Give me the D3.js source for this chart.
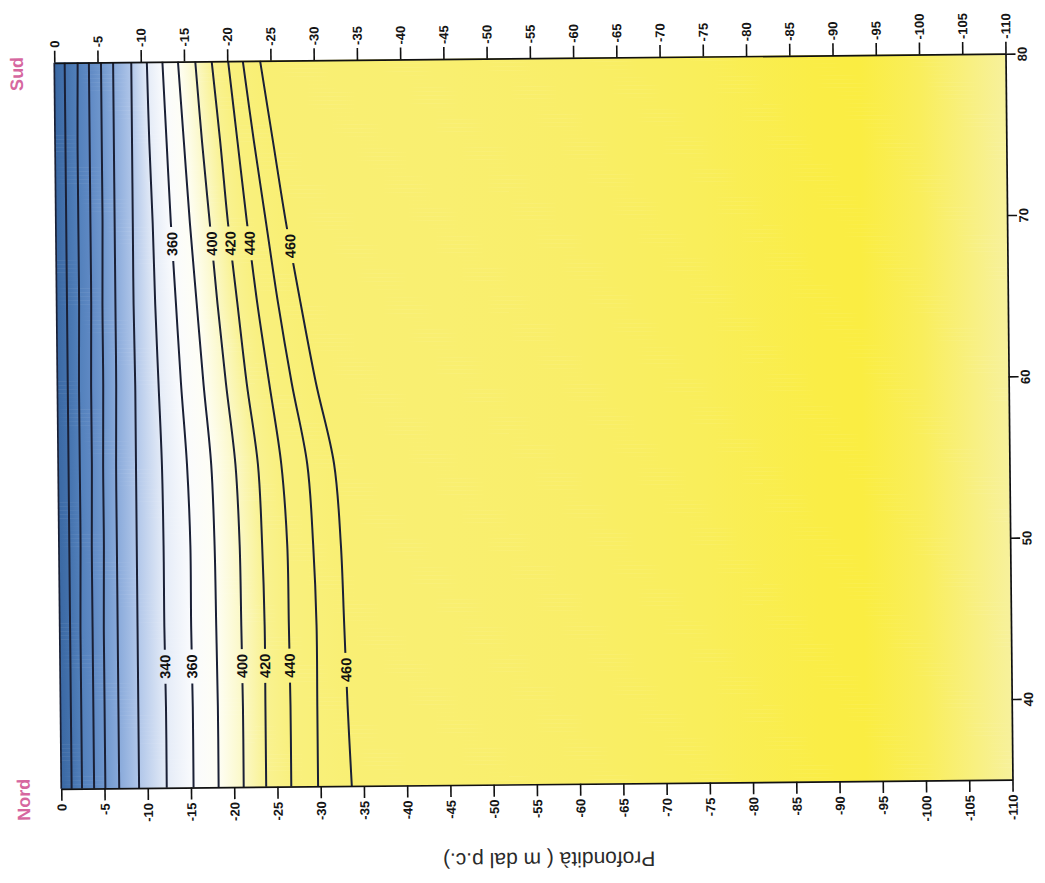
<!DOCTYPE html>
<html>
<head>
<meta charset="utf-8">
<script src="https://cdn.jsdelivr.net/npm/d3@7"></script>
<style>
  html, body { margin: 0; padding: 0; background: #ffffff; }
  svg { display: block; }
</style>
</head>
<body>
<svg id="chart" width="1045" height="883"></svg>
<script>
// Section distances (Nord = 35, Sud = 80) at which each contour depth is known
const distances = [35, 40, 45, 50, 55, 60, 65, 70, 75, 80];

// Contour levels and their depths (m below ground) along the section
const contourLevels = [220, 240, 260, 280, 300, 320, 340, 360, 380, 400, 420, 440, 450, 460];
const contourDepths = [
  [-1.2, -1.2, -1.2, -1.2, -1.2, -1.2, -1.2, -1.2, -1.2, -1.2],
  [-2.4, -2.4, -2.4, -2.5, -2.5, -2.5, -2.6, -2.6, -2.6, -2.7],
  [-3.8, -3.8, -3.8, -3.8, -3.9, -3.9, -4.0, -4.0, -4.0, -4.0],
  [-5.1, -5.1, -5.1, -5.2, -5.2, -5.3, -5.3, -5.4, -5.4, -5.4],
  [-6.7, -6.7, -6.7, -6.7, -6.7, -6.8, -6.8, -6.8, -6.8, -6.8],
  [-9.0, -9.0, -9.0, -9.0, -9.0, -9.0, -8.9, -8.9, -8.9, -8.9],
  [-12.2, -12.2, -12.1, -12.1, -12.0, -11.7, -11.4, -11.2, -10.9, -10.7],
  [-15.3, -15.3, -15.2, -15.2, -14.9, -14.3, -13.8, -13.3, -12.9, -12.5],
  [-18.2, -18.2, -18.1, -18.0, -17.7, -16.9, -16.2, -15.5, -14.9, -14.3],
  [-21.1, -21.1, -21.0, -20.9, -20.5, -19.5, -18.6, -17.8, -17.0, -16.3],
  [-23.7, -23.7, -23.7, -23.5, -23.1, -21.9, -20.9, -19.9, -19.1, -18.2],
  [-26.6, -26.6, -26.5, -26.4, -25.8, -24.5, -23.2, -22.1, -21.1, -20.1],
  [-29.7, -29.7, -29.7, -29.4, -28.8, -27.1, -25.6, -24.3, -23.0, -21.8],
  [-33.6, -33.2, -32.9, -32.6, -31.9, -29.9, -28.2, -26.6, -25.2, -23.8]
];

// Fill colour attached to each contour level, plus the ground surface
const surfaceColor = "#3a68a3";
const levelColors = ["#4472ad", "#5280bb", "#5f89c4", "#6f97cd", "#88a9da", "#b0c6e9",
                     "#e4ebf7", "#fafbfd", "#fefef5", "#fbf8c6", "#f9f291", "#f9f07e",
                     "#f9f079", "#f9ef74"];

// Colour of the deep part of the section, below the last contour
const deepDepths = [-45, -60, -75, -88, -93, -100, -106, -110];
const deepColors = ["#f9ef70", "#f9ee68", "#f9ee5a", "#faed46", "#faed42", "#f9ee5c", "#f8f082", "#f7f19c"];

// Contour labels: [level, distance]
const contourLabels = [
  [340, 42.5], [360, 42.5], [400, 42.5], [420, 42.5], [440, 42.5], [460, 42.2],
  [360, 68.7], [400, 68.7], [420, 68.7], [440, 68.7], [460, 68.5]
];

// Axis ticks
const depthTicks = d3.range(0, -111, -5);
const distanceTicks = [40, 50, 60, 70, 80];

const font = "'Liberation Sans', Arial, Helvetica, sans-serif";

// Plot frame
const plotLeft = 57.75, plotRight = 1009, plotTop = 58.25, plotBottom = 784.25;
const x = d3.scaleLinear().domain([0, -110]).range([plotLeft, plotRight]);
const y = d3.scaleLinear().domain([35, 80]).range([plotBottom, plotTop]);

const svg = d3.select("#chart");
const defs = svg.append("defs");
const root = svg.append("g").attr("transform", "rotate(-0.55, 533, 421)");

// Depth of a contour at any distance along the section
const depthAt = contourDepths.map(arr => d3.scaleLinear().domain(distances).range(arr));

// ---- Shaded field: thin horizontal strips, each with its own depth gradient ----
const step = 0.25;
const rows = d3.range(35, 80, step);
const field = root.append("g");
rows.forEach((d0, i) => {
  const dm = d0 + step / 2;
  const gid = "row" + i;
  const grad = defs.append("linearGradient")
    .attr("id", gid)
    .attr("gradientUnits", "userSpaceOnUse")
    .attr("x1", x(0)).attr("x2", x(-110))
    .attr("y1", 0).attr("y2", 0);
  const stops = [[0, surfaceColor]];
  contourLevels.forEach((lv, k) => stops.push([depthAt[k](dm), levelColors[k]]));
  deepDepths.forEach((dd, k) => stops.push([dd, deepColors[k]]));
  grad.selectAll("stop").data(stops).join("stop")
    .attr("offset", s => (s[0] / -110))
    .attr("stop-color", s => s[1]);
  field.append("rect")
    .attr("x", x(0))
    .attr("y", y(d0 + step) - 0.3)
    .attr("width", x(-110) - x(0))
    .attr("height", y(d0) - y(d0 + step) + 0.6)
    .attr("fill", `url(#${gid})`);
});

// ---- Gaps in the contour lines under the labels ----
const mask = defs.append("mask").attr("id", "labelGaps")
  .attr("maskUnits", "userSpaceOnUse")
  .attr("x", 0).attr("y", 0).attr("width", 1045).attr("height", 883);
mask.append("rect").attr("x", 0).attr("y", 0).attr("width", 1045).attr("height", 883).attr("fill", "#fff");
contourLabels.forEach(([lv, dist]) => {
  const k = contourLevels.indexOf(lv);
  const cx = x(depthAt[k](dist)), cy = y(dist);
  mask.append("rect")
    .attr("x", cx - 8).attr("y", cy - 17)
    .attr("width", 16).attr("height", 34)
    .attr("fill", "#000");
});

// ---- Contour lines ----
const line = d3.line()
  .x(p => x(p[1]))
  .y(p => y(p[0]))
  .curve(d3.curveCatmullRom.alpha(0.5));

root.append("g")
  .attr("mask", "url(#labelGaps)")
  .selectAll("path")
  .data(contourDepths)
  .join("path")
  .attr("d", arr => line(distances.map((dd, j) => [dd, arr[j]])))
  .attr("fill", "none")
  .attr("stroke", "#1a2036")
  .attr("stroke-width", 2);

// ---- Contour labels ----
root.append("g")
  .selectAll("text")
  .data(contourLabels)
  .join("text")
  .attr("transform", ([lv, dist]) => {
    const k = contourLevels.indexOf(lv);
    return `translate(${x(depthAt[k](dist))},${y(dist)}) rotate(-90)`;
  })
  .attr("text-anchor", "middle")
  .attr("dy", "0.35em")
  .attr("font-family", font)
  .attr("font-weight", "bold")
  .attr("font-size", 14.5)
  .attr("fill", "#111")
  .text(d => d[0]);

// ---- Axes ----
function styleAxis(g) {
  g.select(".domain").attr("stroke", "#111").attr("stroke-width", 1.7);
  g.selectAll(".tick line").attr("stroke", "#111").attr("stroke-width", 1.6);
  g.selectAll("text").attr("font-family", font).attr("font-size", 13)
    .attr("font-weight", "bold").attr("fill", "#151515");
}

const topAxis = root.append("g")
  .attr("transform", `translate(0,${y(80)})`)
  .call(d3.axisTop(x).tickValues(depthTicks).tickSize(12).tickSizeOuter(0).tickFormat(d => String(d)));
styleAxis(topAxis);
topAxis.selectAll(".tick text")
  .attr("transform", "rotate(-90)")
  .attr("x", 15).attr("y", 0).attr("dy", "0.35em")
  .attr("text-anchor", "start");

const bottomAxis = root.append("g")
  .attr("transform", `translate(0,${y(35)})`)
  .call(d3.axisBottom(x).tickValues(depthTicks).tickSize(12).tickSizeOuter(0).tickFormat(d => String(d)));
styleAxis(bottomAxis);
bottomAxis.selectAll(".tick text")
  .attr("transform", "rotate(-90)")
  .attr("x", -15).attr("y", 0).attr("dy", "0.35em")
  .attr("text-anchor", "end");

const rightAxis = root.append("g")
  .attr("transform", `translate(${x(-110)},0)`)
  .call(d3.axisRight(y).tickValues(distanceTicks).tickSize(10).tickSizeOuter(0));
styleAxis(rightAxis);
rightAxis.selectAll(".tick text")
  .attr("transform", "translate(12,0) rotate(-90)")
  .attr("x", 0).attr("y", 0).attr("dy", "0.71em")
  .attr("text-anchor", "middle");

// Left edge of the section
root.append("line")
  .attr("x1", x(0)).attr("x2", x(0))
  .attr("y1", y(80)).attr("y2", y(35))
  .attr("stroke", "#1a2036").attr("stroke-width", 1.7);

// ---- Orientation labels and axis title ----
root.append("text")
  .attr("transform", "translate(20,69) rotate(-90)")
  .attr("text-anchor", "middle").attr("dy", "0.35em")
  .attr("font-family", font).attr("font-size", 18).attr("font-weight", "bold")
  .attr("fill", "#d6679f")
  .text("Sud");

root.append("text")
  .attr("transform", "translate(20,795) rotate(-90)")
  .attr("text-anchor", "middle").attr("dy", "0.35em")
  .attr("font-family", font).attr("font-size", 18).attr("font-weight", "bold")
  .attr("fill", "#d6679f")
  .text("Nord");

root.append("text")
  .attr("transform", "translate(545,860) rotate(180)")
  .attr("text-anchor", "middle").attr("dy", "0.35em")
  .attr("font-family", font).attr("font-size", 21)
  .attr("fill", "#2a2a2a")
  .text("Profondità ( m dal p.c.)");
</script>
</body>
</html>
